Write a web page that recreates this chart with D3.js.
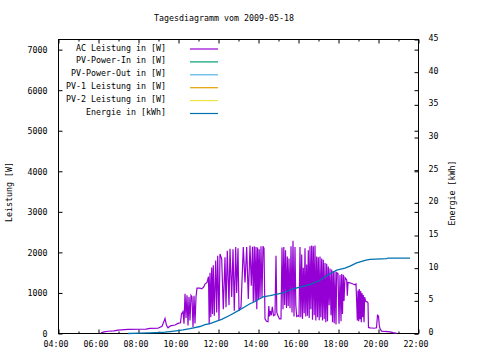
<!DOCTYPE html>
<html>
<head>
<meta charset="utf-8">
<script src="https://cdn.jsdelivr.net/npm/d3@7"></script>
<style>
  html, body { margin: 0; padding: 0; background: #fff; }
  svg text { font-family: "DejaVu Sans Mono", monospace; font-size: 8.3px; fill: #000; }
</style>
</head>
<body>
<svg id="chart" width="480" height="360"></svg>
<script>
// ---- data ----
const titleText = "Tagesdiagramm vom 2009-05-18";
const seriesNames = ["AC Leistung in [W]", "PV-Power-In in [W]", "PV-Power-Out in [W]",
                     "PV-1 Leistung in [W]", "PV-2 Leistung in [W]", "Energie in [kWh]"];
const seriesColors = ["#9400d3", "#009e73", "#56b4e9", "#e69f00", "#f0e442", "#0072b2"];
const xTickHours = [4, 6, 8, 10, 12, 14, 16, 18, 20, 22];
const xMinorHours = [5, 7, 9, 11, 13, 15, 17, 19, 21];
const yTicks = [0, 1000, 2000, 3000, 4000, 5000, 6000, 7000];
const y2Ticks = [0, 5, 10, 15, 20, 25, 30, 35, 40, 45];

// AC Leistung [hour, W]
const acData = [
 [6.125,15],[6.275,40],[6.475,55],[6.775,65],[6.975,85],[7.475,100],[8.075,105],[8.375,110],
 [8.575,125],[8.975,130],[9.175,180],[9.275,300],[9.325,370],[9.4,200],[9.475,140],[9.6,190],
 [9.825,210],[9.975,250],[10.1,265],[10.15,480],[10.225,540],[10.275,240],[10.325,980],[10.375,380],
 [10.425,940],[10.475,200],[10.525,900],[10.575,320],[10.625,940],[10.675,900],[10.725,160],[10.775,930],
 [10.825,250],[10.875,900],[10.925,1120],[11.075,1120],[11.15,1100],[11.25,1140],[11.325,1220],[11.425,1260],
 [11.5,1400],[11.535,230],[11.575,1500],[11.615,400],[11.66,1630],[11.7,480],[11.74,1680],[11.79,440],
 [11.86,1800],[11.91,520],[11.96,1920],[12.025,320],[12.075,1960],[12.16,1840],[12.24,600],[12.325,1880],
 [12.375,650],[12.44,2040],[12.525,700],[12.575,2090],[12.66,900],[12.725,2080],[12.79,560],[12.86,2130],
 [12.91,1000],[12.975,2100],[13.025,560],[13.075,620],[13.125,650],[13.24,2130],[13.325,1260],[13.41,2130],
 [13.49,850],[13.575,2170],[13.64,1180],[13.7,2140],[13.74,770],[13.79,2150],[13.835,800],[13.875,2130],
 [13.915,600],[13.955,2120],[13.995,830],[14.035,2080],[14.075,880],[14.125,2150],[14.175,900],[14.225,2150],
 [14.275,2100],[14.325,360],[14.4,300],[14.475,290],[14.515,680],[14.55,420],[14.59,560],[14.64,450],
 [14.69,660],[14.75,440],[14.825,460],[14.875,1920],[14.915,520],[14.975,440],[15.05,360],[15.125,360],
 [15.175,2120],[15.225,600],[15.265,2130],[15.31,700],[15.35,2050],[15.4,630],[15.44,1900],[15.485,680],
 [15.525,1850],[15.575,620],[15.625,2150],[15.675,520],[15.725,2290],[15.775,420],[15.825,2130],[15.865,700],
 [15.91,420],[15.975,440],[16.025,420],[16.075,2130],[16.115,400],[16.16,1950],[16.2,360],[16.24,1620],
 [16.285,500],[16.325,2100],[16.365,420],[16.41,1700],[16.45,440],[16.49,2050],[16.535,380],[16.575,2150],
 [16.615,600],[16.66,2170],[16.7,340],[16.74,2150],[16.785,450],[16.825,2170],[16.865,320],[16.91,1900],
 [16.95,400],[16.99,1880],[17.035,330],[17.075,1900],[17.115,400],[17.16,1850],[17.2,320],[17.24,1820],
 [17.285,360],[17.325,1740],[17.365,280],[17.41,1720],[17.45,300],[17.49,1650],[17.535,700],[17.575,1600],
 [17.625,450],[17.66,1580],[17.7,280],[17.74,1540],[17.785,250],[17.825,1530],[17.875,220],[17.91,1500],
 [17.975,1480],[18.025,240],[18.075,1440],[18.125,300],[18.16,1470],[18.2,480],[18.24,1450],[18.275,800],
 [18.325,1380],[18.41,1320],[18.44,930],[18.475,1260],[18.575,1250],[18.725,1220],[18.825,1200],[18.875,1220],
 [18.91,770],[18.94,320],[18.975,1060],[19.01,300],[19.04,1100],[19.075,350],[19.11,1050],[19.14,280],
 [19.175,1000],[19.21,400],[19.24,950],[19.275,280],[19.31,900],[19.35,800],[19.425,780],[19.475,760],
 [19.5,150],[19.575,140],[19.675,135],[19.775,130],[19.9,140],[19.95,450],[20.0,430],[20.04,200],
 [20.075,120],[20.15,60],[20.325,50],[20.575,40],[20.725,20],[20.91,5]
];
const pvInData = [];
const pvOutData = [];
const pv1Data = [];
const pv2Data = [];
// Energie [hour, kWh]
const energyData = [
 [7.475,0],[8.075,0.05],[8.575,0.1],[9.075,0.15],[9.325,0.2],[9.575,0.3],[9.975,0.45],[10.225,0.56],
 [10.575,0.75],[11.075,1.07],[11.325,1.35],[11.575,1.5],[11.91,1.9],[12.16,2.15],[12.575,2.8],[12.99,3.5],
 [13.325,4.1],[13.575,4.55],[13.825,4.9],[14.225,5.6],[14.575,5.8],[14.875,6.0],[15.225,6.2],[15.725,6.85],
 [16.075,7.1],[16.325,7.3],[16.66,7.6],[17.075,8.15],[17.475,9.0],[17.91,9.7],[18.325,10.0],[18.575,10.3],
 [18.91,10.8],[19.325,11.2],[19.575,11.35],[20.41,11.45],[20.475,11.55],[21.575,11.55]
];

// ---- layout ----
const svg = d3.select("#chart");
const L = 58.5, R = 418.5, T = 39.5, B = 333.5;

const x = d3.scaleLinear().domain([4, 22]).range([L, R]);
const y = d3.scaleLinear().domain([0, 7250]).range([B, T]);
const y2 = d3.scaleLinear().domain([0, 45]).range([B, T]);
const fmtHour = h => String(h).padStart(2, "0") + ":00";

// title
svg.append("text").attr("x", 224).attr("y", 21).attr("text-anchor", "middle").text(titleText);

// axes
function styleAxis(g) {
  g.select(".domain").remove();
  g.selectAll("line").attr("stroke", "#000").attr("stroke-width", 1);
  g.selectAll("text").style("font-family", "DejaVu Sans Mono, monospace").style("font-size", "8.3px").attr("fill", "#000");
}
// bottom major
svg.append("g").attr("transform", `translate(0,${B})`)
  .call(d3.axisBottom(x).tickValues(xTickHours).tickFormat(fmtHour).tickSizeInner(-4).tickSizeOuter(0).tickPadding(8))
  .call(styleAxis)
  .call(g => g.selectAll("text").attr("dy", "0.71em").attr("dx", -3));
svg.append("g").attr("transform", `translate(0,${B})`)
  .call(d3.axisBottom(x).tickValues(xMinorHours).tickFormat("").tickSizeInner(-2).tickSizeOuter(0))
  .call(styleAxis);
// top mirror
svg.append("g").attr("transform", `translate(0,${T})`)
  .call(d3.axisTop(x).tickValues(xTickHours).tickFormat("").tickSizeInner(-4).tickSizeOuter(0))
  .call(styleAxis);
svg.append("g").attr("transform", `translate(0,${T})`)
  .call(d3.axisTop(x).tickValues(xMinorHours).tickFormat("").tickSizeInner(-2).tickSizeOuter(0))
  .call(styleAxis);
// left
svg.append("g").attr("transform", `translate(${L},0)`)
  .call(d3.axisLeft(y).tickValues(yTicks).tickFormat(d3.format("d")).tickSizeInner(-4).tickSizeOuter(0).tickPadding(11))
  .call(styleAxis)
  .call(g => g.selectAll("text").attr("dy", 3));
// left mirrored on right
svg.append("g").attr("transform", `translate(${R},0)`)
  .call(d3.axisRight(y).tickValues(yTicks).tickFormat("").tickSizeInner(-4).tickSizeOuter(0))
  .call(styleAxis);
// right y2
svg.append("g").attr("transform", `translate(${R},0)`)
  .call(d3.axisRight(y2).tickValues(y2Ticks).tickFormat(d3.format("d")).tickSizeInner(-4).tickSizeOuter(0).tickPadding(10))
  .call(styleAxis)
  .call(g => g.selectAll("text").attr("dy", 1));

// border
svg.append("rect").attr("x", L).attr("y", T).attr("width", R - L).attr("height", B - T)
  .attr("fill", "none").attr("stroke", "#000").attr("stroke-width", 1);

// axis titles
svg.append("text").attr("transform", "translate(12,192) rotate(-90)").attr("text-anchor", "middle").text("Leistung [W]");
svg.append("text").attr("transform", "translate(455,193) rotate(-90)").attr("text-anchor", "middle").text("Energie [kWh]");

// lines
const lineW = d3.line().x(d => x(d[0])).y(d => y(d[1]));
const lineE = d3.line().x(d => x(d[0])).y(d => y2(d[1]));
const powerSeries = [acData, pvInData, pvOutData, pv1Data, pv2Data];
powerSeries.forEach((data, i) => {
  if (data.length) {
    svg.append("path").datum(data).attr("d", lineW).attr("fill", "none")
      .attr("stroke", seriesColors[i]).attr("stroke-width", 1.2).attr("stroke-linejoin", "miter");
  }
});
svg.append("path").datum(energyData).attr("d", lineE).attr("fill", "none")
  .attr("stroke", seriesColors[5]).attr("stroke-width", 1.3);

// legend
const legend = svg.append("g");
seriesNames.forEach((name, i) => {
  const yy = 50.5 + i * 12.9;
  legend.append("text").attr("x", 166).attr("y", yy).attr("text-anchor", "end").text(name);
  legend.append("line").attr("x1", 190).attr("x2", 218).attr("y1", yy - 1.5).attr("y2", yy - 1.5)
    .attr("stroke", seriesColors[i]).attr("stroke-width", 1.2);
});
</script>
</body>
</html>
